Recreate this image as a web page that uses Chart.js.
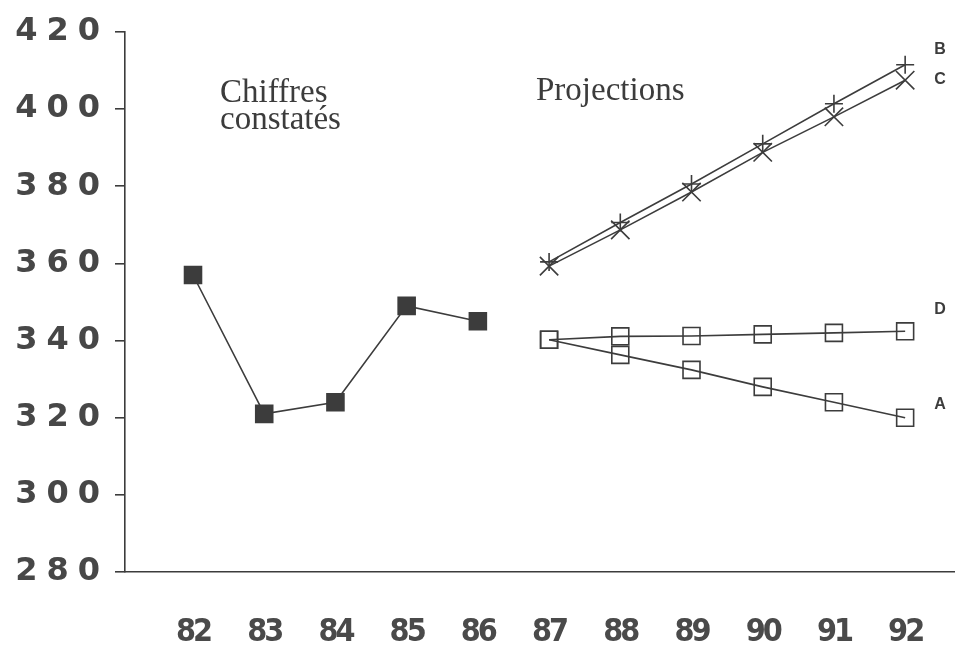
<!DOCTYPE html>
<html>
<head>
<meta charset="utf-8">
<script src="https://cdn.jsdelivr.net/npm/chart.js@4.4.1/dist/chart.umd.min.js"></script>
<style>
  html, body { margin: 0; padding: 0; background: #fff; overflow: hidden; }
  canvas { display: block; }
</style>
</head>
<body>
<canvas id="myChart" width="955" height="645"></canvas>
<script>
// data
const years = [82, 83, 84, 85, 86, 87, 88, 89, 90, 91, 92];
const yTicks = [280, 300, 320, 340, 360, 380, 400, 420];

const histYears = [82, 83, 84, 85, 86];
const histValues = [357, 321, 324, 349, 345];

const projYears = [87, 88, 89, 90, 91, 92];
const seriesB = [360.4, 370.6, 380.6, 391, 401.4, 411.5];
const seriesC = [359.3, 368.7, 378.5, 388.8, 398, 407.5];
const seriesD = [340.2, 341.1, 341.2, 341.6, 342, 342.4];
const seriesA = [340.2, 336.3, 332.4, 328, 324, 320];

const ink = "#3c3c3c";

const toPoints = (xs, ys) => xs.map((x, i) => ({ x: x, y: ys[i] }));

// wide y labels, tight x labels (x labels are drawn after the datasets, z:1)
const spacing = {
  id: "spacing",
  beforeDraw(chart) {
    chart.ctx.letterSpacing = "9px";
  },
  beforeDatasetsDraw(chart) {
    chart.ctx.letterSpacing = "0px";
  },
  afterDatasetsDraw(chart) {
    chart.ctx.letterSpacing = "-3px";
  },
};

// free text on the plot
const notes = {
  id: "notes",
  afterDraw(chart) {
    const ctx = chart.ctx;
    const x = chart.scales.x;
    const y = chart.scales.y;
    ctx.save();
    ctx.letterSpacing = "0px";
    ctx.fillStyle = ink;
    ctx.textAlign = "left";
    ctx.textBaseline = "alphabetic";
    ctx.font = "33px 'Liberation Serif', 'Times New Roman', serif";
    ctx.fillText("Chiffres", 220, 102);
    ctx.fillText("constatés", 220, 129);
    ctx.fillText("Projections", 536, 100);

    ctx.font = "bold 16px 'Liberation Sans', Arial, sans-serif";
    ctx.textBaseline = "middle";
    const lx = x.getPixelForValue(92) + 29;
    ctx.fillText("B", lx, y.getPixelForValue(seriesB[5]) - 15);
    ctx.fillText("C", lx, y.getPixelForValue(seriesC[5]) - 1);
    ctx.fillText("D", lx, y.getPixelForValue(seriesD[5]) - 22);
    ctx.fillText("A", lx, y.getPixelForValue(seriesA[5]) - 13);
    ctx.restore();
    ctx.letterSpacing = "0px";
  },
};

const lineSet = (label, pts, style, radius, fill) => ({
  label: label,
  data: pts,
  borderColor: ink,
  borderWidth: 1.6,
  pointStyle: style,
  pointRadius: radius,
  pointBorderWidth: 1.6,
  pointBorderColor: ink,
  pointBackgroundColor: fill,
  tension: 0,
});

const config = {
  type: "line",
  data: {
    datasets: [
      lineSet("Chiffres constatés", toPoints(histYears, histValues), "rect", 12, ink),
      lineSet("B", toPoints(projYears, seriesB), "cross", 9, ink),
      lineSet("C", toPoints(projYears, seriesC), "crossRot", 13, ink),
      lineSet("D", toPoints(projYears, seriesD), "rect", 12, "rgba(0,0,0,0)"),
      lineSet("A", toPoints(projYears, seriesA), "rect", 12, "rgba(0,0,0,0)"),
    ],
  },
  options: {
    responsive: false,
    animation: false,
    layout: {
      autoPadding: false,
      padding: { top: 32, right: 0, bottom: 0, left: 0 },
    },
    plugins: {
      legend: { display: false },
      tooltip: { enabled: false },
    },
    scales: {
      x: {
        type: "linear",
        min: 81.045,
        max: 92.7,
        afterBuildTicks: (scale) => {
          scale.ticks = years.map((v) => ({ value: v }));
        },
        afterFit: (scale) => {
          scale.height = 73;
          scale.paddingLeft = 0;
          scale.paddingRight = 0;
        },
        grid: { display: false },
        border: { display: true, color: ink, width: 1.6 },
        ticks: {
          z: 1,
          padding: 33,
          color: "#4a4a4a",
          font: {
            family: "'Liberation Sans Narrow', 'DejaVu Sans Condensed', sans-serif",
            size: 32,
            weight: "bold",
          },
          callback: (v) => String(v),
        },
      },
      y: {
        min: 280,
        max: 420,
        afterBuildTicks: (scale) => {
          scale.ticks = yTicks.map((v) => ({ value: v }));
        },
        afterFit: (scale) => {
          scale.width = 125;
          scale.paddingTop = 0;
          scale.paddingBottom = 0;
        },
        grid: {
          drawOnChartArea: false,
          drawTicks: true,
          tickLength: 10,
          color: ink,
          lineWidth: 1.6,
        },
        border: { display: true, color: ink, width: 1.6 },
        ticks: {
          padding: 6,
          color: "#474747",
          font: {
            family: "'DejaVu Sans', sans-serif",
            size: 32,
            weight: "bold",
          },
        },
      },
    },
  },
  plugins: [spacing, notes],
};

new Chart("myChart", config);
</script>
</body>
</html>
